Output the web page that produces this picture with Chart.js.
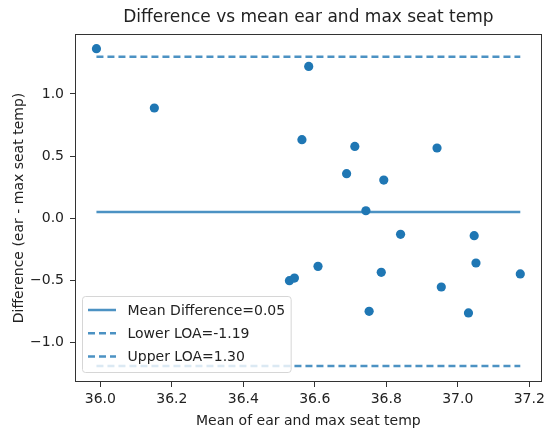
<!DOCTYPE html>
<html>
<head>
<meta charset="utf-8">
<script src="https://cdn.jsdelivr.net/npm/chart.js@4.4.0/dist/chart.umd.min.js"></script>
<style>
  html, body { margin: 0; padding: 0; background: #fff; }
  #wrap { width: 549px; height: 434px; }
</style>
</head>
<body>
<div id="wrap"><canvas id="baChart" width="549" height="434"></canvas></div>
<script>
/* =========================
   DATA
   ========================= */

const meanValues = [35.989, 36.151, 36.583, 36.564, 36.712, 36.942, 36.689, 36.793, 36.743, 36.840,
                    37.046, 36.609, 37.051, 36.529, 36.543, 36.786, 37.175, 36.954, 36.752, 37.030];
const diffValues = [1.365, 0.887, 1.222, 0.632, 0.578, 0.565, 0.358, 0.307, 0.060, -0.130,
                    -0.141, -0.388, -0.361, -0.503, -0.482, -0.436, -0.449, -0.554, -0.750, -0.763];

const meanDiff = 0.05;
const lowerLOA = -1.19;
const upperLOA = 1.30;

const xTicks = [36.0, 36.2, 36.4, 36.6, 36.8, 37.0, 37.2];
const yTicks = [-1.0, -0.5, 0.0, 0.5, 1.0];

const lineLabels = ["Mean Difference=0.05", "Lower LOA=-1.19", "Upper LOA=1.30"];

/* =========================
   STYLE
   ========================= */

const FONT = "'DejaVu Sans', 'Liberation Sans', sans-serif";
const BLUE = "#1f77b4";
const LINE_BLUE = "rgba(31,119,180,0.8)";
const TEXT = "#222";

const xMin = Math.min(...meanValues);
const xMax = Math.max(...meanValues);
const hLine = v => [{ x: xMin, y: v }, { x: xMax, y: v }];

const points = meanValues.map((m, i) => ({ x: m, y: diffValues[i] }));

/* frame around the axes (all four spines) */
const framePlugin = {
  id: "frame",
  afterDatasetsDraw(chart) {
    const a = chart.chartArea;
    const c = chart.ctx;
    c.save();
    c.strokeStyle = "#333";
    c.lineWidth = 1;
    c.strokeRect(Math.round(a.left) + 0.5, Math.round(a.top) + 0.5,
                 Math.round(a.right - a.left) - 1, Math.round(a.bottom - a.top) - 1);
    c.restore();
  }
};

/* matplotlib style legend, lower left inside the axes */
const legendPlugin = {
  id: "innerLegend",
  afterDraw(chart) {
    const a = chart.chartArea;
    const c = chart.ctx;
    const items = chart.data.datasets.filter(d => d.label);
    c.save();
    c.font = "14px " + FONT;
    const textW = Math.max(...items.map(d => c.measureText(d.label).width));
    const w = 45 + textW + 6;
    const h = 76;
    const x = a.left + 7.5;
    const y = a.bottom - 9.5 - h;

    c.beginPath();
    c.roundRect(x, y, w, h, 3);
    c.fillStyle = "rgba(255,255,255,0.8)";
    c.fill();
    c.strokeStyle = "#d6d6d6";
    c.lineWidth = 1;
    c.stroke();

    items.forEach((d, i) => {
      const ry = y + 13.5 + i * 23.3;
      c.beginPath();
      c.setLineDash(d.borderDash || []);
      c.strokeStyle = d.borderColor;
      c.lineWidth = d.borderWidth;
      c.moveTo(x + 5.5, ry);
      c.lineTo(x + 33.5, ry);
      c.stroke();
      c.setLineDash([]);
      c.fillStyle = TEXT;
      c.textBaseline = "middle";
      c.textAlign = "left";
      c.fillText(d.label, x + 45, ry + 1);
    });
    c.restore();
  }
};

const fmt = v => v.toFixed(1).replace("-", "\u2212");

new Chart(document.getElementById("baChart"), {
  type: "scatter",
  data: {
    datasets: [
      { data: points, backgroundColor: BLUE, borderWidth: 0, pointRadius: 4.6, order: 0 },
      { type: "line", label: lineLabels[0], data: hLine(meanDiff), borderColor: LINE_BLUE,
        borderWidth: 2.5, pointRadius: 0, order: 1 },
      { type: "line", label: lineLabels[1], data: hLine(lowerLOA), borderColor: LINE_BLUE,
        borderWidth: 2.5, borderDash: [7, 4], pointRadius: 0, order: 1 },
      { type: "line", label: lineLabels[2], data: hLine(upperLOA), borderColor: LINE_BLUE,
        borderWidth: 2.5, borderDash: [7, 4], pointRadius: 0, order: 1 }
    ]
  },
  options: {
    responsive: false,
    animation: false,
    devicePixelRatio: 1,
    layout: { padding: { left: 0, right: 2, top: 0, bottom: 0 } },
    plugins: {
      legend: { display: false },
      tooltip: { enabled: false },
      title: {
        display: true,
        text: "Difference vs mean ear and max seat temp",
        fullSize: false,
        color: TEXT,
        font: { family: FONT, size: 17, weight: "normal" },
        padding: { top: 7, bottom: 6.6 }
      }
    },
    scales: {
      x: {
        type: "linear",
        min: 35.929,
        max: 37.235,
        afterBuildTicks: s => { s.ticks = xTicks.map(v => ({ value: v })); },
        afterFit: s => { s.height = 52; },
        grid: { drawOnChartArea: false, drawTicks: true, tickLength: 5, color: "#333" },
        border: { display: false },
        ticks: { color: TEXT, padding: 4, maxRotation: 0, font: { family: FONT, size: 14 },
                 callback: v => fmt(v) },
        title: { display: true, text: "Mean of ear and max seat temp", color: TEXT,
                 font: { family: FONT, size: 14 }, padding: { top: 0, bottom: 4.5 } }
      },
      y: {
        type: "linear",
        min: -1.319,
        max: 1.483,
        afterBuildTicks: s => { s.ticks = yTicks.map(v => ({ value: v })); },
        afterFit: s => { s.width = 75; },
        grid: { drawOnChartArea: false, drawTicks: true, tickLength: 5, color: "#333" },
        border: { display: false },
        ticks: { color: TEXT, padding: 6, font: { family: FONT, size: 14 },
                 callback: v => fmt(v) },
        title: { display: true, text: "Difference (ear - max seat temp)", color: TEXT,
                 font: { family: FONT, size: 14 }, padding: { top: 11, bottom: 0 } }
      }
    }
  },
  plugins: [framePlugin, legendPlugin]
});
</script>
</body>
</html>
